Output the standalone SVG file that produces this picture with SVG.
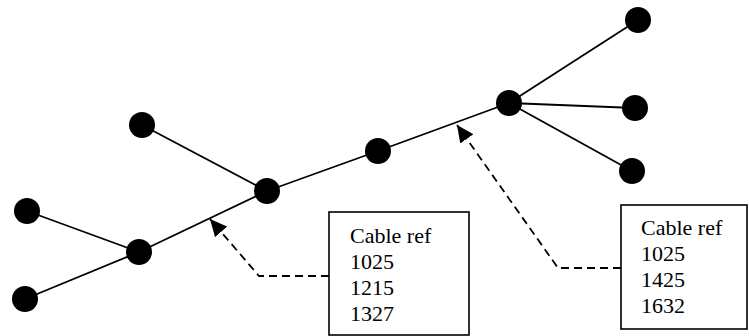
<svg xmlns="http://www.w3.org/2000/svg" width="749" height="336" viewBox="0 0 749 336">
<style>
.n{fill:#000}
.e{stroke:#000;stroke-width:1.8;fill:none}
.d{stroke:#000;stroke-width:1.8;fill:none;stroke-dasharray:8,5}
.box{fill:#fff;stroke:#000;stroke-width:1.6}
.t{font-family:"Liberation Serif","Times New Roman",serif;font-size:22px;fill:#000}
</style>
<defs>
<marker id="ah" viewBox="0 0 17 16" refX="17" refY="8" markerWidth="17" markerHeight="16" markerUnits="userSpaceOnUse" orient="auto">
<path d="M0,0 L17,8 L0,16 Z" fill="#000"/>
</marker>
</defs>
<g id="connectors">
<line class="e" x1="142" y1="125" x2="267" y2="191"/>
<line class="e" x1="27" y1="211" x2="139" y2="252"/>
<line class="e" x1="25" y1="299" x2="139" y2="252"/>
<line class="e" x1="139" y1="252" x2="267" y2="191"/>
<line class="e" x1="267" y1="191" x2="378" y2="151"/>
<line class="e" x1="378" y1="151" x2="509" y2="103"/>
<line class="e" x1="509" y1="103" x2="638" y2="20"/>
<line class="e" x1="509" y1="103" x2="635" y2="108"/>
<line class="e" x1="509" y1="103" x2="632" y2="171"/>
<polyline class="d" points="329,276 259,276 210,219" marker-end="url(#ah)"/>
<polyline class="d" points="621,268 558,268 457,125" marker-end="url(#ah)"/>
</g>
<g id="n1"><circle class="n" cx="142" cy="125" r="13"/></g>
<g id="n2"><circle class="n" cx="27" cy="211" r="13"/></g>
<g id="n3"><circle class="n" cx="25" cy="299" r="13"/></g>
<g id="n4"><circle class="n" cx="139" cy="252" r="13"/></g>
<g id="n5"><circle class="n" cx="267" cy="191" r="13"/></g>
<g id="n6"><circle class="n" cx="378" cy="151" r="13"/></g>
<g id="n7"><circle class="n" cx="509" cy="103" r="13"/></g>
<g id="n8"><circle class="n" cx="638" cy="20" r="13"/></g>
<g id="n9"><circle class="n" cx="635" cy="108" r="13"/></g>
<g id="n10"><circle class="n" cx="632" cy="171" r="13"/></g>
<g id="label1">
<rect class="box" x="329" y="212" width="140" height="123"/>
<text class="t" x="350" y="243">Cable ref</text>
<text class="t" x="350" y="269">1025</text>
<text class="t" x="350" y="295">1215</text>
<text class="t" x="350" y="321">1327</text>
</g>
<g id="label2">
<rect class="box" x="621" y="205" width="126" height="124"/>
<text class="t" x="641" y="235">Cable ref</text>
<text class="t" x="641" y="261">1025</text>
<text class="t" x="641" y="287">1425</text>
<text class="t" x="641" y="313">1632</text>
</g>
</svg>
